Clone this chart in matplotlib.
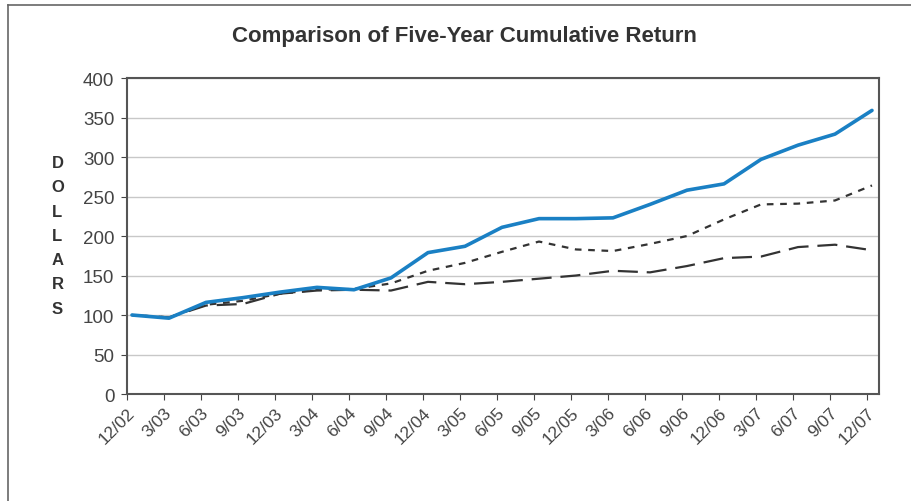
import numpy as np
import matplotlib.pyplot as plt
from matplotlib.lines import Line2D

plt.rcParams['font.family'] = ['Liberation Sans', 'DejaVu Sans']

quarters = ["12/02", "3/03", "6/03", "9/03", "12/03", "3/04", "6/04", "9/04",
            "12/04", "3/05", "6/05", "9/05", "12/05", "3/06", "6/06", "9/06",
            "12/06", "3/07", "6/07", "9/07", "12/07"]
company = [100, 96, 116, 122, 129, 135, 132, 147, 179, 187, 211, 222, 222,
           223, 240, 258, 266, 297, 315, 329, 359]
index_a = [100, 97, 113, 118, 127, 132, 133, 140, 156, 166, 180, 193, 183,
           181, 190, 200, 221, 240, 241, 245, 264]
index_b = [100, 97, 112, 114, 127, 131, 132, 131, 142, 139, 142, 146, 150,
           156, 154, 162, 172, 174, 186, 189, 182]

x = np.arange(len(quarters))

fig = plt.figure(figsize=(9.11, 5.02), dpi=100)
ax = fig.add_axes([0.1394, 0.2131, 0.8255, 0.6295])

ax.plot(x, index_b, color="#333333", lw=1.6, dashes=(9, 4))
ax.plot(x, index_a, color="#333333", lw=1.6, dashes=(3, 3))
ax.plot(x, company, color="#1a80c4", lw=2.6, solid_capstyle="round")

ax.set_ylim(0, 400)
ax.set_yticks(range(0, 401, 50))
ax.set_xlim(-0.135, 20.19)
ax.set_xticks(x - 0.135)
ax.set_xticklabels(quarters, rotation=45, ha="right", rotation_mode="anchor")
ax.grid(axis="y", color="#c8c8c8", lw=1)
ax.set_axisbelow(True)
ax.tick_params(colors="#444444", labelsize=12.5, length=4, width=0.8)
ax.tick_params(axis="y", labelsize=13.5, pad=5)
for s in ax.spines.values():
    s.set_color("#555555")
    s.set_linewidth(1.5)

fig.text(0.51, 0.928, "Comparison of Five-Year Cumulative Return",
         ha="center", va="center", fontsize=16, fontweight="bold", color="#333333")
fig.text(0.063, 0.529, "D\nO\nL\nL\nA\nR\nS", ha="center", va="center",
         multialignment="center", fontsize=12, fontweight="bold",
         color="#333333", linespacing=1.77)

# page frame (left and top edges)
fig.add_artist(Line2D([0.009, 0.009], [0.0, 0.988], color="#666666", lw=1.2))
fig.add_artist(Line2D([0.009, 1.0], [0.988, 0.988], color="#666666", lw=1.2))

fig.savefig("out.png", dpi=100)
